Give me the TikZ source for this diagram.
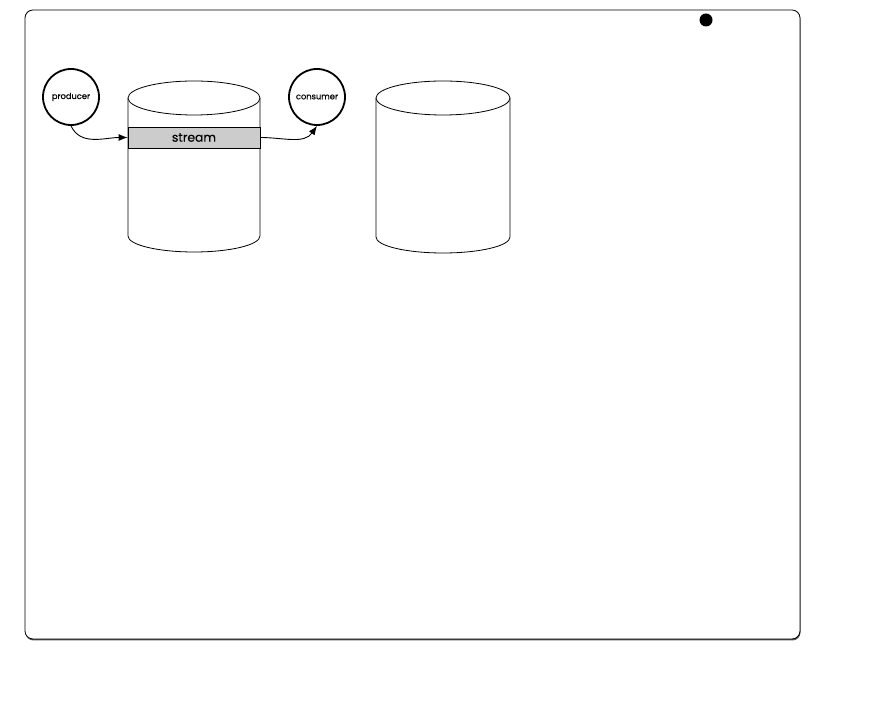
\documentclass[tikz,border=0pt]{standalone}
\usepackage{fontspec}
\setmainfont{Poppins}[FakeBold=0.6]
\usetikzlibrary{arrows.meta}
\begin{document}
\begin{tikzpicture}[x=1pt,y=1pt,
  proc/.style={circle, draw=black, line width=1.8pt, minimum size=56pt, inner sep=0pt, font=\fontsize{8.3}{9}\selectfont},
  cyl/.style={draw=black, line width=0.8pt, fill=white},
  band/.style={rectangle, draw=black, line width=0.8pt, fill=black!20, minimum width=132pt, minimum height=21pt, inner sep=0pt, font=\fontsize{12.3}{13}\selectfont},
  flow/.style={-{Latex[length=9pt,width=7pt]}, line width=0.9pt}]
\useasboundingbox (0,0) rectangle (873,720);
% frame with shadow
\fill[black!65, rounded corners=8pt] (25.5,79.5) rectangle (800.5,709);
\draw[fill=white, line width=0.8pt, rounded corners=8pt] (25,81) rectangle (800,710);
\fill[black] (706,700) circle[radius=6.5];
% cylinder 1
\draw[cyl] (128,622) -- (128,484) arc[start angle=180,end angle=360,x radius=66,y radius=16] -- (260,622);
\draw[cyl] (194,622) ellipse[x radius=66, y radius=17];
\node[band] (stream) at (194,582.5) {stream};
% cylinder 2
\draw[cyl] (376,622) -- (376,483) arc[start angle=180,end angle=360,x radius=67,y radius=16] -- (510,622);
\draw[cyl] (443,622) ellipse[x radius=67, y radius=17];
% processes
\node[proc] (prod) at (71,623) {producer};
\node[proc] (cons) at (317,623) {consumer};
\draw[flow] (prod.south) to[out=-65, in=180] (stream.west);
\draw[flow] (stream.east) to[out=0, in=-125] (cons.south);
\end{tikzpicture}
\end{document}
